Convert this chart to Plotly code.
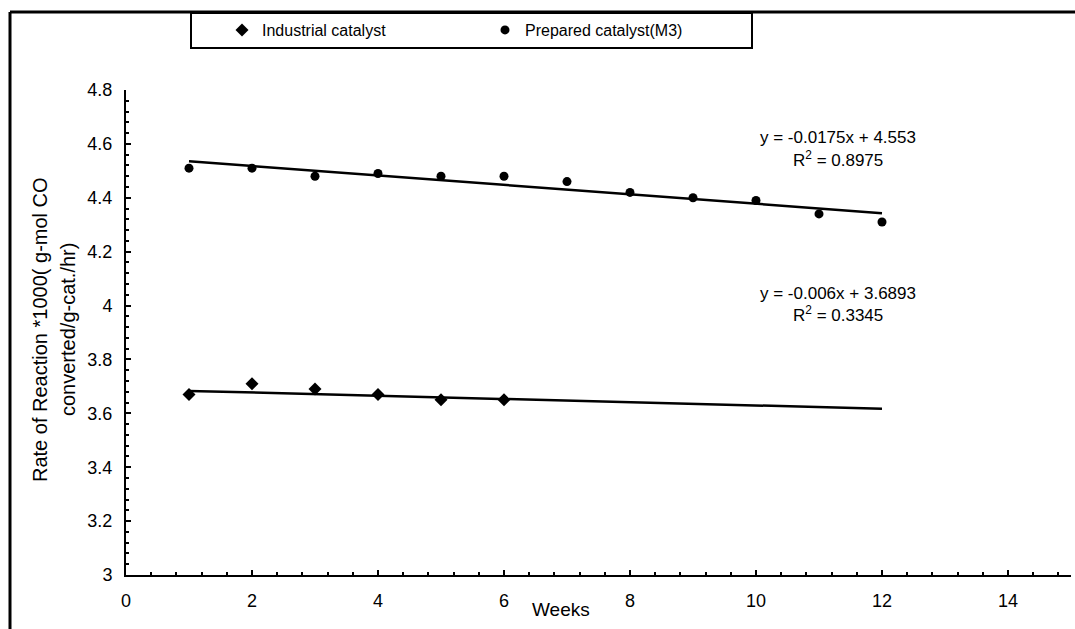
import plotly.graph_objects as go

# Weekly reaction rates (x1000 g-mol CO converted / g-cat / hr)
weeks_industrial = [1, 2, 3, 4, 5, 6]
rate_industrial = [3.67, 3.71, 3.69, 3.67, 3.65, 3.65]

weeks_prepared = [1, 2, 3, 4, 5, 6, 7, 8, 9, 10, 11, 12]
rate_prepared = [4.51, 4.51, 4.48, 4.49, 4.48, 4.48, 4.46, 4.42, 4.40, 4.39, 4.34, 4.31]

# Linear trend lines (slope, intercept, R^2) and the span they cover
trend_industrial = (-0.006, 3.6893, 0.3345)
trend_prepared = (-0.0175, 4.553, 0.8975)
trend_span = [1, 12]

x_ticks = [0, 2, 4, 6, 8, 10, 12, 14]
y_ticks = [3, 3.2, 3.4, 3.6, 3.8, 4, 4.2, 4.4, 4.6, 4.8]
y_tick_text = ["3", "3.2", "3.4", "3.6", "3.8", "4", "4.2", "4.4", "4.6", "4.8"]

FONT = "Liberation Sans, Arial, sans-serif"
W, H = 1075, 629
L, R, T, B = 126, 4, 90, 54
PW, PH = W - L - R, H - T - B


def px(xp):
    return (xp - L) / PW


def py(yp):
    return (H - B - yp) / PH


def trend_y(coef, xs):
    m, c, _ = coef
    return [m * x + c for x in xs]


fig = go.Figure()

fig.add_trace(go.Scatter(
    x=weeks_industrial, y=rate_industrial, mode="markers",
    name="Industrial catalyst",
    marker=dict(symbol="diamond", size=10, color="black"),
))
fig.add_trace(go.Scatter(
    x=weeks_prepared, y=rate_prepared, mode="markers",
    name="Prepared catalyst(M3)",
    marker=dict(symbol="circle", size=9, color="black"),
))

for coef in (trend_prepared, trend_industrial):
    fig.add_trace(go.Scatter(
        x=trend_span, y=trend_y(coef, trend_span), mode="lines",
        line=dict(color="black", width=2.5), showlegend=False, hoverinfo="skip",
    ))

eq_font = dict(family=FONT, size=17, color="black")


def add_equation(coef, x, y_eq, y_r2):
    m, c, r2 = coef
    fig.add_annotation(x=x, y=y_eq, xref="x", yref="y", text=f"y = {m:g}x + {c:g}",
                       showarrow=False, font=eq_font, xanchor="center", yanchor="middle")
    fig.add_annotation(x=x, y=y_r2, xref="x", yref="y", text=f"R<sup>2</sup> = {r2:g}",
                       showarrow=False, font=eq_font, xanchor="center", yanchor="middle")


add_equation(trend_prepared, 11.3, 4.625, 4.545)
add_equation(trend_industrial, 11.3, 4.045, 3.968)

# Axis titles
title_font = dict(family=FONT, size=20, color="black")
fig.add_annotation(x=px(40), y=py(330), xref="paper", yref="paper",
                   text="Rate of Reaction *1000( g-mol CO", textangle=-90,
                   showarrow=False, font=title_font, xanchor="center", yanchor="middle")
fig.add_annotation(x=px(68), y=py(330), xref="paper", yref="paper",
                   text="converted/g-cat./hr)", textangle=-90,
                   showarrow=False, font=title_font, xanchor="center", yanchor="middle")
fig.add_annotation(x=px(561), y=py(609), xref="paper", yref="paper", text="Weeks",
                   showarrow=False, font=dict(family=FONT, size=19, color="black"),
                   xanchor="center", yanchor="middle")

# Outer frame (left and top edges) and legend box
frame = dict(color="black", width=3)
fig.add_shape(type="line", xref="paper", yref="paper",
              x0=px(10), x1=px(10), y0=py(12), y1=py(629), line=frame)
fig.add_shape(type="line", xref="paper", yref="paper",
              x0=px(10), x1=px(1075), y0=py(12), y1=py(12), line=frame)
fig.add_shape(type="rect", xref="paper", yref="paper",
              x0=px(191), x1=px(752), y0=py(13), y1=py(48),
              line=dict(color="black", width=2), fillcolor="rgba(0,0,0,0)")

axis_common = dict(
    showgrid=False, zeroline=False, showline=True, linecolor="black", linewidth=2,
    ticks="inside", ticklen=5, tickwidth=2, tickcolor="black",
    tickfont=dict(family=FONT, size=18, color="black"),
)

fig.update_xaxes(range=[0, 15], tickvals=x_ticks, ticklabelstandoff=8,
                 minor=dict(dtick=0.4, ticks="inside", ticklen=3, tickwidth=1.5, tickcolor="black"),
                 **axis_common)
fig.update_yaxes(range=[3, 4.8], tickvals=y_ticks, ticktext=y_tick_text, ticklabelstandoff=8,
                 minor=dict(dtick=0.04, ticks="inside", ticklen=3, tickwidth=1.5, tickcolor="black"),
                 **axis_common)

fig.update_layout(
    width=W, height=H,
    margin=dict(l=L, r=R, t=T, b=B),
    paper_bgcolor="white", plot_bgcolor="white",
    font=dict(family=FONT, color="black"),
    legend=dict(orientation="h", x=px(222), y=py(30), xanchor="left", yanchor="middle",
                bgcolor="rgba(0,0,0,0)", borderwidth=0,
                entrywidth=218, entrywidthmode="pixels",
                font=dict(family=FONT, size=16, color="black")),
)

fig.write_html("out.html")
